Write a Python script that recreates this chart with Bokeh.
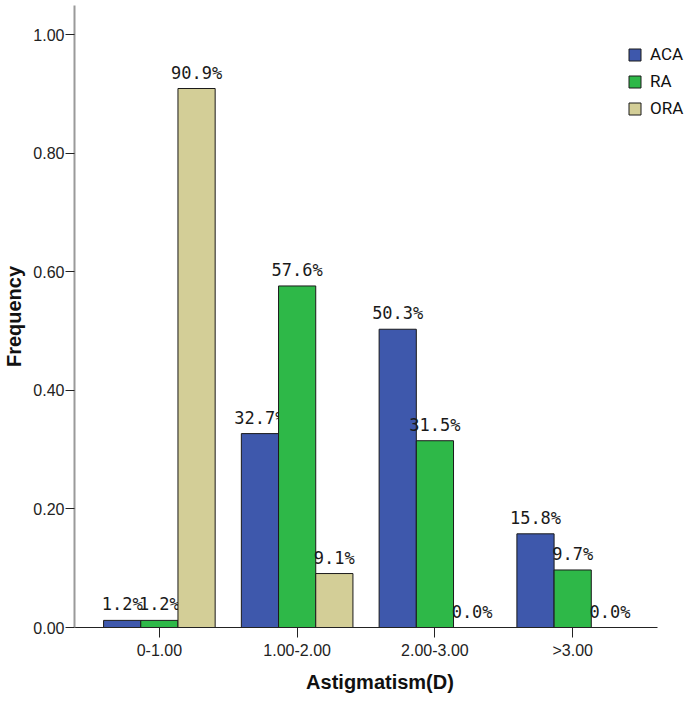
from bokeh.plotting import figure
from bokeh.models import ColumnDataSource, Range1d, FixedTicker, NumeralTickFormatter
from bokeh.transform import dodge
from bokeh.core.properties import value
from bokeh.embed import file_html
from bokeh.resources import INLINE

# ---- data ----
categories = ["0-1.00", "1.00-2.00", "2.00-3.00", ">3.00"]
series_names = ["ACA", "RA", "ORA"]
aca = [0.012, 0.327, 0.503, 0.158]
ra = [0.012, 0.576, 0.315, 0.097]
ora = [0.909, 0.091, 0.000, 0.000]
y_ticks = [0.0, 0.2, 0.4, 0.6, 0.8, 1.0]

colors = {"ACA": "#3E58AC", "RA": "#2EB848", "ORA": "#D3CE97"}
offsets = {"ACA": -0.27, "RA": 0.0, "ORA": 0.27}
bar_w = 0.27

def fmt(v):
    return f"{v * 100:.1f}%"

idx = list(range(len(categories)))
source = ColumnDataSource(dict(
    pos=idx, cats=categories,
    ACA=aca, RA=ra, ORA=ora,
    ACA_lbl=[fmt(v) for v in aca],
    RA_lbl=[fmt(v) for v in ra],
    ORA_lbl=[fmt(v) for v in ora],
))

pad = 0.616                     # gap between axis start and first group edge (category units)
x_start = idx[0] - pad
x_axis_end = idx[-1] + pad
x_end = x_start + 612 / 138.0   # frame extends to the right edge so the legend is not clipped

p = figure(
    width=685, height=705,
    x_range=Range1d(x_start, x_end),
    y_range=Range1d(0, 1.049),
    output_backend="svg", toolbar_location=None,
    min_border_left=73, min_border_right=0, min_border_top=5, min_border_bottom=78,
)

for name in series_names:
    p.vbar(x=dodge("pos", offsets[name]), top=name, width=bar_w,
           source=source, fill_color=colors[name], line_color="#1a1a1a", line_width=1,
           legend_label=name)
    p.text(x=dodge("pos", offsets[name]), y=name, text=name + "_lbl",
           source=source, text_font=value("DejaVu Sans Mono"), text_font_size="17px",
           text_color="#1a1a1a", text_align="center", text_baseline="alphabetic",
           y_offset=-16)

# grid / outline
p.xgrid.visible = False
p.ygrid.visible = False
p.outline_line_color = None
p.background_fill_color = "white"

# y axis
p.yaxis.ticker = FixedTicker(ticks=y_ticks)
p.yaxis.formatter = NumeralTickFormatter(format="0.00")
p.yaxis.axis_line_color = "#9a9a9a"
p.yaxis.axis_line_width = 2
p.yaxis.major_tick_line_color = "#222222"
p.yaxis.major_tick_out = 9
p.yaxis.major_tick_in = 0
p.yaxis.minor_tick_line_color = None
p.yaxis.major_label_standoff = 1
p.yaxis.major_label_text_font = "Liberation Sans"
p.yaxis.major_label_text_font_size = "16px"
p.yaxis.major_label_text_color = "#222222"
p.yaxis.axis_label = "Frequency"
p.yaxis.axis_label_text_font = "Liberation Sans"
p.yaxis.axis_label_text_font_style = "bold"
p.yaxis.axis_label_text_font_size = "20px"
p.yaxis.axis_label_text_color = "#111111"
p.yaxis.axis_label_standoff = 5

# x axis
p.xaxis.ticker = FixedTicker(ticks=idx)
p.xaxis.major_label_overrides = {i: c for i, c in zip(idx, categories)}
p.xaxis.bounds = (x_start, x_axis_end)
p.xaxis.axis_line_color = "#222222"
p.xaxis.axis_line_width = 1
p.xaxis.major_tick_line_color = "#222222"
p.xaxis.major_tick_out = 10
p.xaxis.major_tick_in = 0
p.xaxis.minor_tick_line_color = None
p.xaxis.major_label_standoff = 4
p.xaxis.major_label_text_font = "Liberation Sans"
p.xaxis.major_label_text_font_size = "16px"
p.xaxis.major_label_text_color = "#222222"
p.xaxis.axis_label = "Astigmatism(D)"
p.xaxis.axis_label_text_font = "Liberation Sans"
p.xaxis.axis_label_text_font_style = "bold"
p.xaxis.axis_label_text_font_size = "20px"
p.xaxis.axis_label_text_color = "#111111"
p.xaxis.axis_label_standoff = 9

# legend
lg = p.legend[0]
lg.location = (553, 509)
lg.glyph_width = 15
lg.glyph_height = 15
lg.label_height = 15
lg.spacing = 7
lg.padding = 0
lg.margin = 0
lg.border_line_color = None
lg.background_fill_alpha = 0
lg.label_text_font = "Roboto"
lg.label_text_font_size = "17px"
lg.label_text_color = "#111111"
lg.label_standoff = 8

open("out.html", "w").write(file_html(p, INLINE))
